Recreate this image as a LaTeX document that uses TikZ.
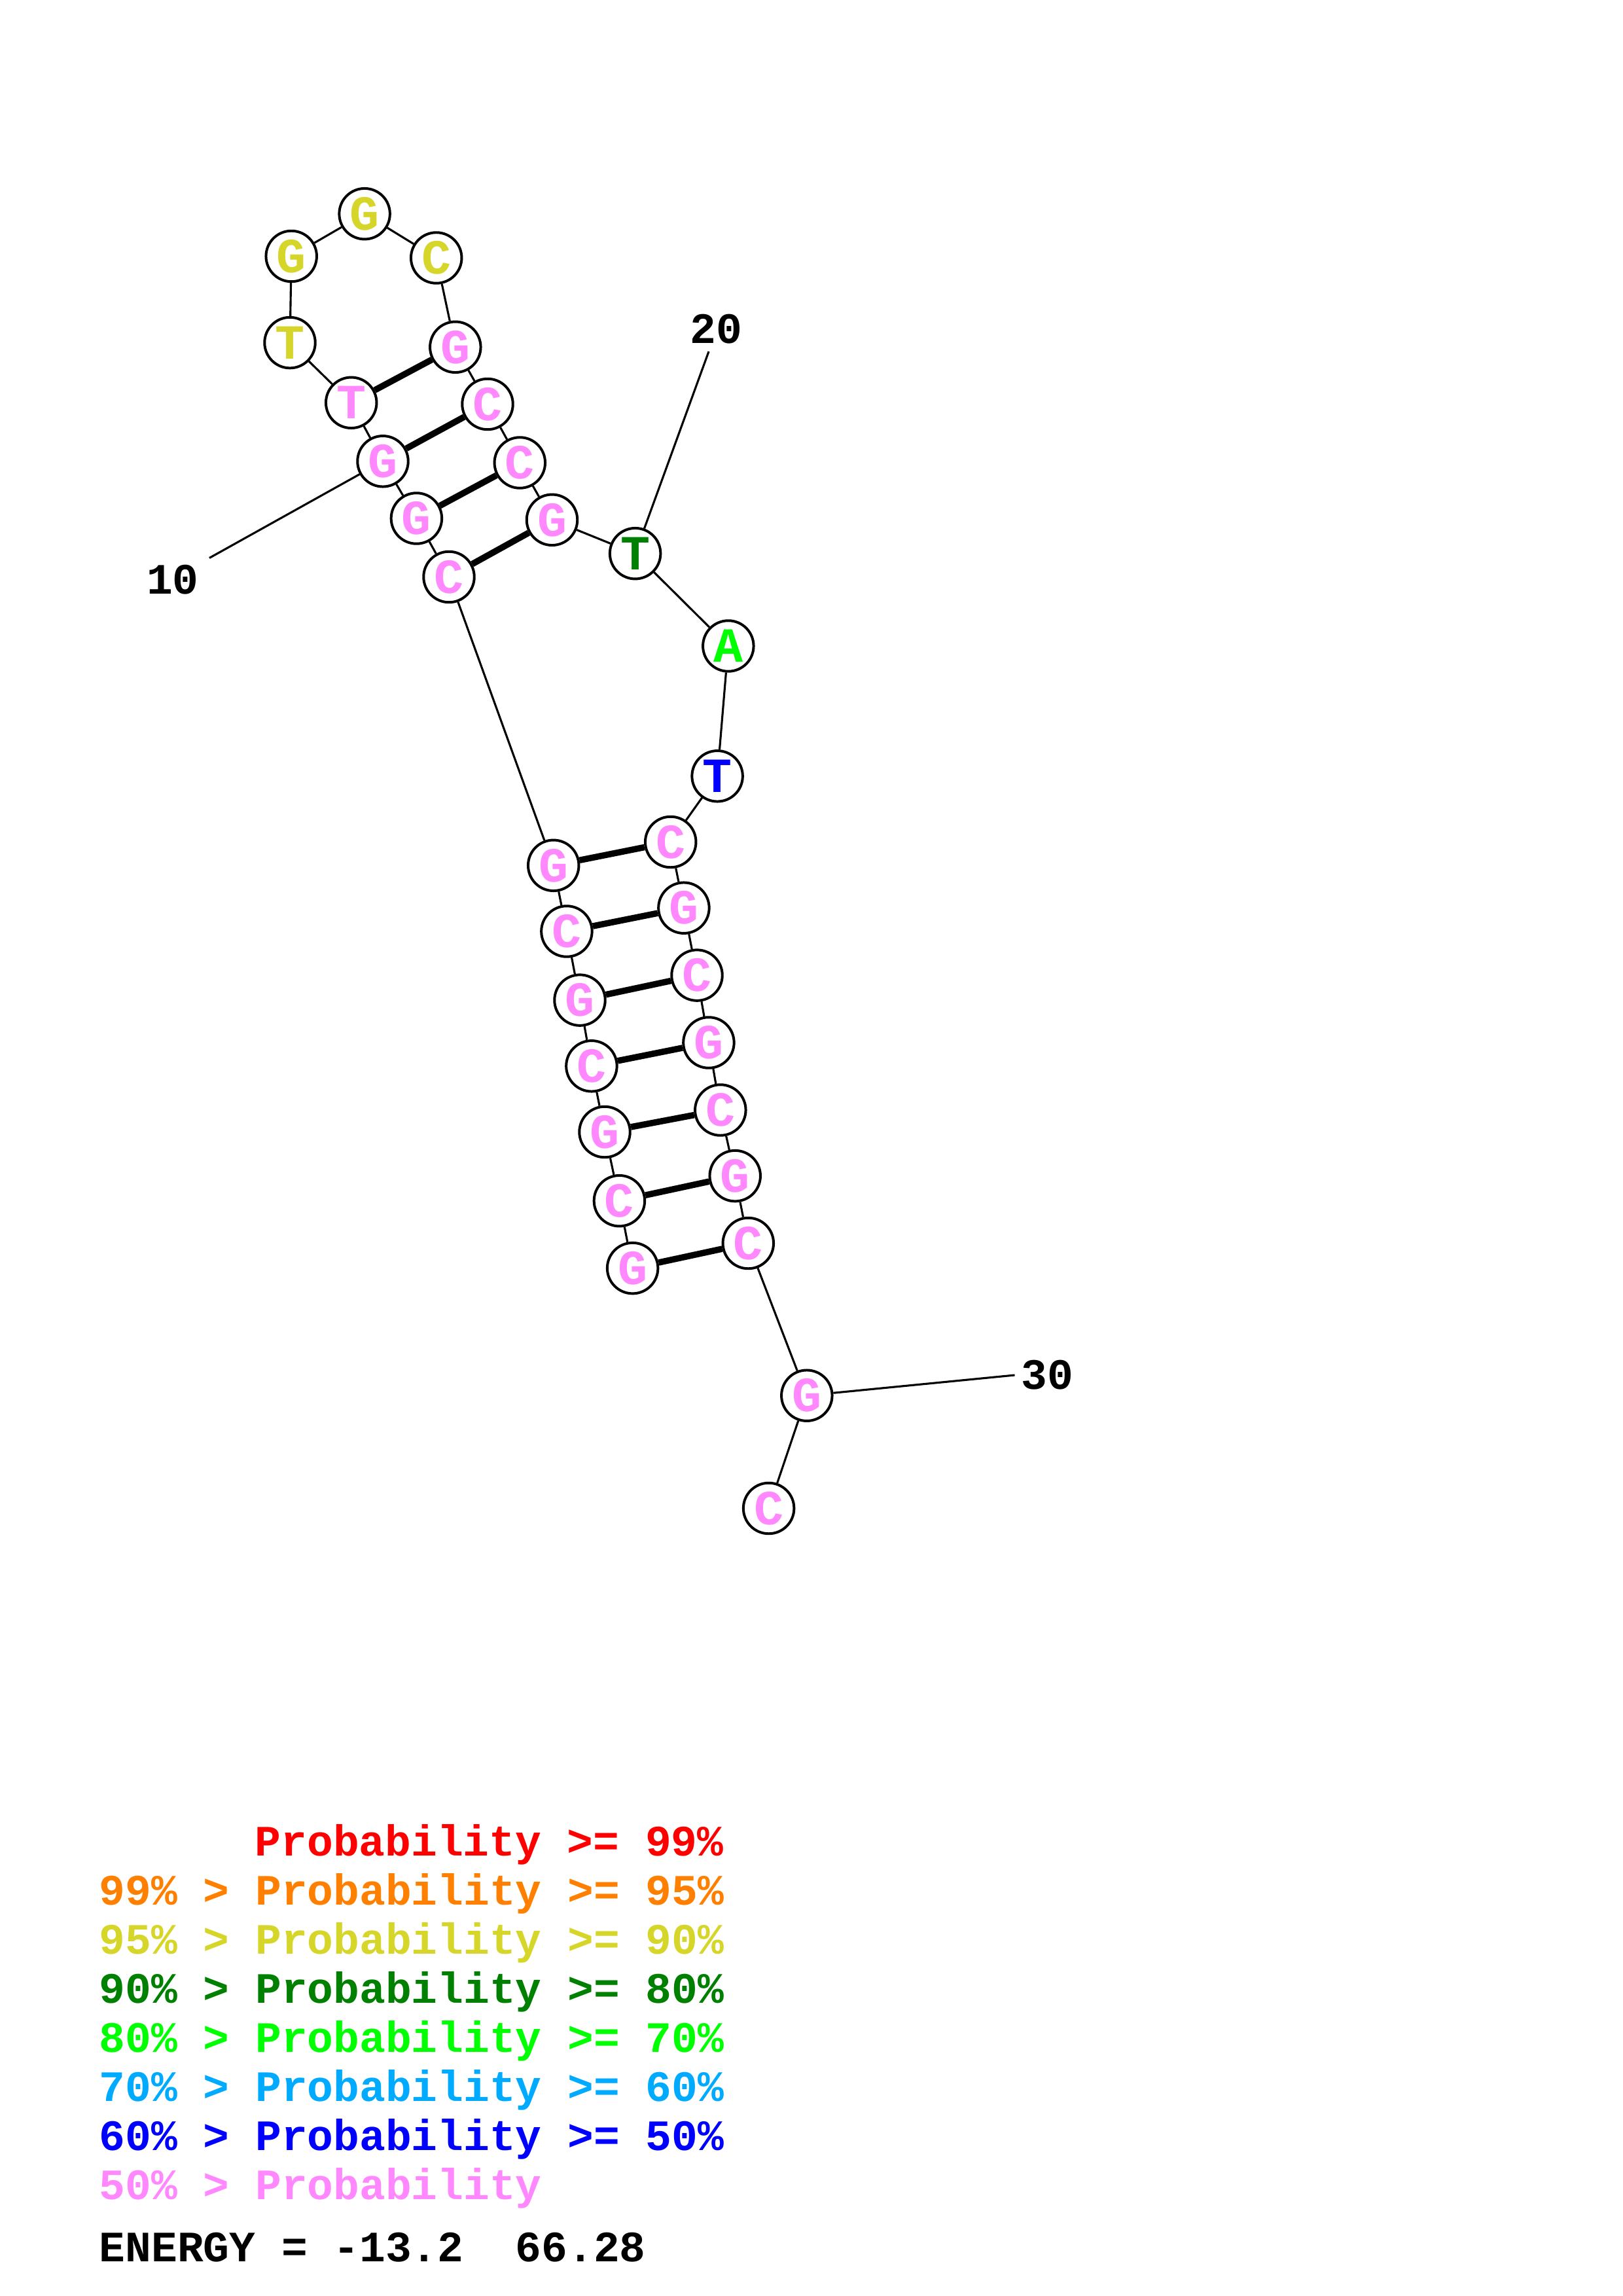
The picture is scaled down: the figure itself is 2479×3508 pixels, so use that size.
\documentclass[tikz,border=0pt]{standalone}
\usepackage{fontspec}
\setmonofont{Liberation Mono}
\definecolor{cred}{RGB}{255,0,0}
\definecolor{corange}{RGB}{255,128,0}
\definecolor{cyellow}{RGB}{214,214,42}
\definecolor{cdgreen}{RGB}{0,128,0}
\definecolor{cgreen}{RGB}{0,255,0}
\definecolor{clblue}{RGB}{0,170,255}
\definecolor{cblue}{RGB}{0,0,255}
\definecolor{cpink}{RGB}{255,136,255}
\newcommand\ntfont{\fontsize{18}{18}\selectfont\ttfamily\bfseries}
\newcommand\lgfont{\fontsize{15.9}{15.9}\selectfont\ttfamily\bfseries}
\begin{document}
\begin{tikzpicture}[x=0.24pt,y=-0.24pt,
  nt/.style={circle,draw,line width=0.95pt,fill=white,minimum size=18.6pt,inner sep=0pt,font=\ntfont,text=cpink},
  bb/.style={line width=0.75pt},
  bp/.style={line width=2.3pt},
  lg/.style={anchor=base west,inner sep=0pt,font=\lgfont},
  num/.style={inner sep=0pt,font=\lgfont}]
\useasboundingbox (0,0) rectangle (2479,3508);
\node[nt] (n1) at (966.6,1937.6) {G};
\node[nt] (n2) at (946.4,1834.7) {C};
\node[nt] (n3) at (924.0,1729.5) {G};
\node[nt] (n4) at (903.9,1628.8) {C};
\node[nt] (n5) at (886.0,1528.1) {G};
\node[nt] (n6) at (865.9,1423.0) {C};
\node[nt] (n7) at (845.7,1322.3) {G};
\node[nt] (n8) at (686.0,881.5) {C};
\node[nt] (n9) at (636.4,792.0) {G};
\node[nt] (n10) at (585.0,704.8) {G};
\node[nt] (n11) at (536.7,615.3) {T};
\node[nt,text=cyellow] (n12) at (443.0,523.6) {T};
\node[nt,text=cyellow] (n13) at (445.2,391.5) {G};
\node[nt,text=cyellow] (n14) at (557.1,326.7) {G};
\node[nt,text=cyellow] (n15) at (666.7,394.0) {C};
\node[nt] (n16) at (695.8,530.3) {G};
\node[nt] (n17) at (745.0,617.5) {C};
\node[nt] (n18) at (794.3,707.0) {C};
\node[nt] (n19) at (843.5,794.3) {G};
\node[nt,text=cdgreen] (n20) at (970.6,845.7) {T};
\node[nt,text=cgreen] (n21) at (1112.8,987.0) {A};
\node[nt,text=cblue] (n22) at (1096.1,1185.8) {T};
\node[nt] (n23) at (1024.7,1286.5) {C};
\node[nt] (n24) at (1044.9,1387.2) {G};
\node[nt] (n25) at (1065.0,1490.1) {C};
\node[nt] (n26) at (1082.9,1593.0) {G};
\node[nt] (n27) at (1100.8,1696.0) {C};
\node[nt] (n28) at (1123.2,1796.6) {G};
\node[nt] (n29) at (1143.3,1899.5) {C};
\node[nt] (n30) at (1232.8,2132.2) {G};
\node[nt] (n31) at (1174.6,2304.5) {C};
% backbone
\foreach \a/\b in {1/2,2/3,3/4,4/5,5/6,6/7,7/8,8/9,9/10,10/11,11/12,12/13,13/14,14/15,15/16,16/17,17/18,18/19,19/20,20/21,21/22,22/23,23/24,24/25,25/26,26/27,27/28,28/29,29/30,30/31}
  \draw[bb] (n\a) -- (n\b);
% base pairs
\foreach \a/\b in {1/29,2/28,3/27,4/26,5/25,6/24,7/23,8/19,9/18,10/17,11/16}
  \draw[bp] (n\a) -- (n\b);
% number labels
\coordinate (t10) at (320,852.5);
\coordinate (t20) at (1083,537);
\coordinate (t30) at (1550.5,2101);
\draw[bb] (n10) -- (t10);
\draw[bb] (n20) -- (t20);
\draw[bb] (n30) -- (t30);
\node[num] (l10) at (264,886) {10};
\node[num] (l20) at (1094,503) {20};
\node[num] (l30) at (1600,2101) {30};
% legend
\node[lg,text=cred] (g1) at (389,2835) {Probability >= 99\%};
\node[lg,text=corange] (g2) at (151,2910) {99\% > Probability >= 95\%};
\node[lg,text=cyellow] (g3) at (151,2985) {95\% > Probability >= 90\%};
\node[lg,text=cdgreen] (g4) at (151,3060) {90\% > Probability >= 80\%};
\node[lg,text=cgreen] (g5) at (151,3135) {80\% > Probability >= 70\%};
\node[lg,text=clblue] (g6) at (151,3210) {70\% > Probability >= 60\%};
\node[lg,text=cblue] (g7) at (151,3285) {60\% > Probability >= 50\%};
\node[lg,text=cpink] (g8) at (151,3360) {50\% > Probability};
\node[lg] (en) at (151,3455) {ENERGY = -13.2\ \ 66.28};
\end{tikzpicture}
\end{document}
